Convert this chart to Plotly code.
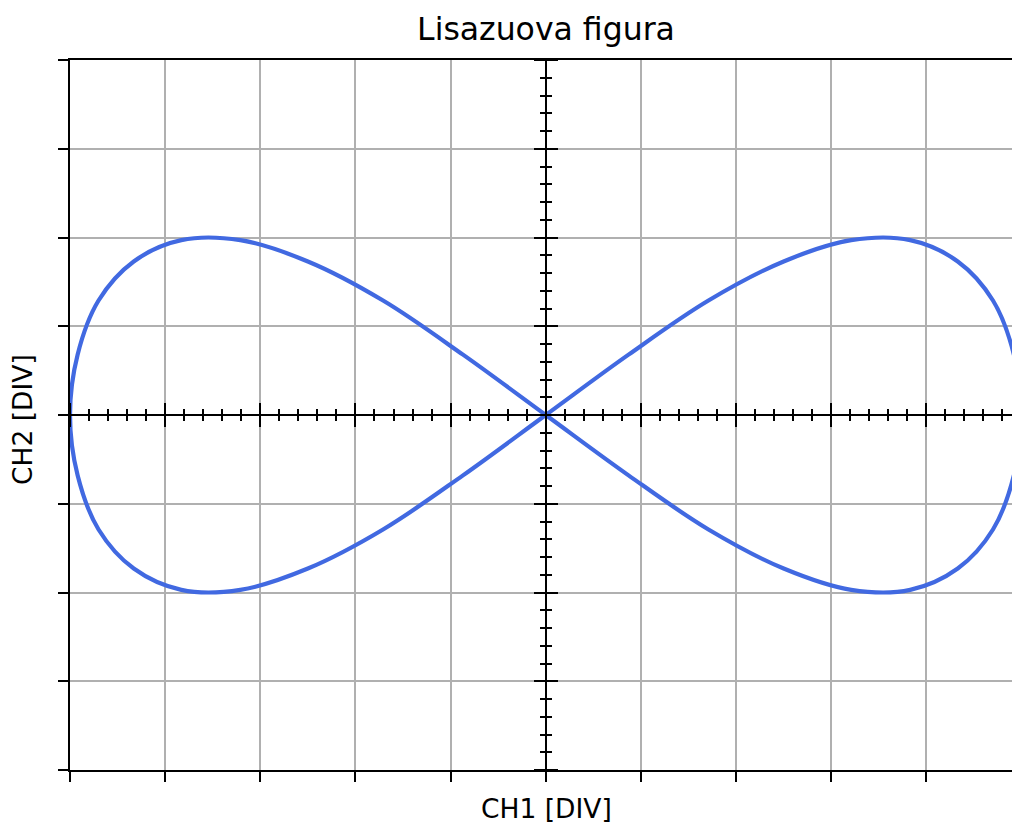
import plotly.graph_objects as go

# --- body Lissajousovy křivky odečtené z obrazovky (v dílcích) ---
ch1 = [0, 0.87, 1.71, 2.5, 3.21, 3.83, 4.33, 4.70, 4.92, 5,
       4.92, 4.70, 4.33, 3.83, 3.21, 2.5, 1.71, 0.87, 0,
       -0.87, -1.71, -2.5, -3.21, -3.83, -4.33, -4.70, -4.92, -5,
       -4.92, -4.70, -4.33, -3.83, -3.21, -2.5, -1.71, -0.87, 0]
ch2 = [0, 0.68, 1.29, 1.73, 1.97, 1.97, 1.73, 1.29, 0.68, 0,
       -0.68, -1.29, -1.73, -1.97, -1.97, -1.73, -1.29, -0.68, 0,
       0.68, 1.29, 1.73, 1.97, 1.97, 1.73, 1.29, 0.68, 0,
       -0.68, -1.29, -1.73, -1.97, -1.97, -1.73, -1.29, -0.68, 0]

x_range = [-5, 4.9]   # pravý okraj je v originále oříznutý
y_range = [-4, 4]

title_text = "Lisazuova figura"
x_label = "CH1 [DIV]"
y_label = "CH2 [DIV]"

W, H = 1012, 829
FONT = "DejaVu Sans"

fig = go.Figure()
fig.add_trace(go.Scatter(
    x=ch1, y=ch2, mode="lines",
    line=dict(color="#4169e1", width=4.2, shape="spline"),
    hoverinfo="skip", showlegend=False,
))

# prázdné stopy, aby se vykreslily pomocné osy středového kříže
for xa, ya in [("x2", "y"), ("x3", "y"), ("x", "y2"), ("x", "y3")]:
    fig.add_trace(go.Scatter(x=[], y=[], xaxis=xa, yaxis=ya,
                             showlegend=False, hoverinfo="skip"))

# poloha středových os v souřadnicích papíru
x_mid = (0 - x_range[0]) / (x_range[1] - x_range[0])
y_mid = (0 - y_range[0]) / (y_range[1] - y_range[0])

frame = dict(showticklabels=False, ticks="outside", ticklen=10, tickwidth=2,
             tickcolor="black", showline=True, linecolor="black", linewidth=2,
             zeroline=False, dtick=1, tick0=0, fixedrange=True)

minor = dict(dtick=0.2, tick0=0, ticks="outside", ticklen=5, tickwidth=1.5,
             tickcolor="black", showgrid=False)

center = dict(frame, showgrid=False, anchor="free", ticklen=11, minor=minor)

fig.update_layout(
    width=W, height=H,
    margin=dict(l=70, r=0, t=60, b=59),
    paper_bgcolor="white", plot_bgcolor="white",
    font=dict(family=FONT, color="black"),
    title=dict(text=title_text, font=dict(size=31.5, family=FONT),
               x=546 / W, xref="container", xanchor="center",
               y=1 - 29 / H, yref="container", yanchor="middle"),
    xaxis=dict(frame, range=x_range, mirror=True, showgrid=True,
               gridcolor="#b0b0b0", gridwidth=1.5),
    yaxis=dict(frame, range=y_range, showgrid=True,
               gridcolor="#b0b0b0", gridwidth=1.5),
    # středový kříž s dílky (obě strany čáry)
    xaxis2=dict(center, overlaying="x", range=x_range, position=y_mid, side="bottom"),
    xaxis3=dict(center, overlaying="x", range=x_range, position=y_mid, side="top"),
    yaxis2=dict(center, overlaying="y", range=y_range, position=x_mid, side="left"),
    yaxis3=dict(center, overlaying="y", range=y_range, position=x_mid, side="right"),
    annotations=[
        dict(text=x_label, x=546, y=H - 808, xref="paper", yref="paper",
             xanchor="center", yanchor="middle",
             showarrow=False, font=dict(size=26.5, family=FONT)),
        dict(text=y_label, x=22, y=H - 420, xref="paper", yref="paper",
             xanchor="center", yanchor="middle",
             showarrow=False, textangle=-90, font=dict(size=26.5, family=FONT)),
    ],
)

# annotace zadané v pixelech -> přepočet na souřadnice papíru
plot_w = W - 70
plot_h = H - 60 - 59
for ann in fig.layout.annotations:
    ann.x = (ann.x - 70) / plot_w
    ann.y = (ann.y - 59) / plot_h

fig.write_html("out.html", config={"displayModeBar": False},
               post_script="document.body.style.margin='0';")
